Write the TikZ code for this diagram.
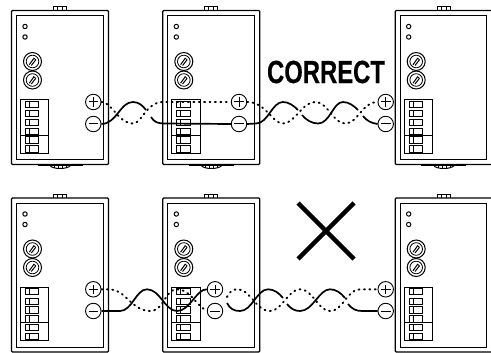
\documentclass[tikz,border=0pt]{standalone}
\usepackage{fontspec}
\setmainfont{Liberation Sans}
\newfontfamily\titlefont[BoldFont={Liberation Sans Bold},BoldFeatures={FakeBold=.5}]{Liberation Sans}
\tikzset{
  x=1pt,y=-1pt,
  outerline/.style={draw=black,line width=1.3pt,rounded corners=1pt},
  thinline/.style={draw=black,line width=.8pt},
  midline/.style={draw=black,line width=1pt},
  terminal/.style={circle,draw=black,line width=.9pt,minimum size=15.5pt,inner sep=0pt,fill=white},
  solidwire/.style={draw=black,line width=1.7pt},
  dotwire/.style={draw=black,line width=1.9pt,line cap=round,dash pattern=on 1pt off 4.4pt},
  bigmark/.style={draw=black,line width=4.5pt},
  title/.style={inner sep=0pt,xscale=.745,font=\titlefont\bfseries\fontsize{32}{32}\selectfont},
  pics/screw/.style={code={
    \draw[midline] (0,0) circle (9);
    \draw[thinline] (0,0) circle (6.3);
    \draw[midline] (-3.2,3.2) -- (1.4,-3.2) (-1.2,4) -- (3.2,-1.6);
    \draw[thinline] (1,-3.6) -- (3.4,-1.6);
  }},
  pics/clip/.style={code={
    \draw[midline] (42,0) -- (42,-3.5) -- (55,-3.5) -- (55,0);
    \draw[thinline] (46,-3.5) -- (46,0) (51,-3.5) -- (51,0);
  }},
  pics/foot/.style={code={
    \draw[thinline] (26,155.3) -- (71,155.3);
    \draw[midline] (38.5,155) .. controls (41,159) and (56,159) .. (59,155);
    \draw[thinline] (43,155) -- (43,158) (47,155) -- (47,158.5) (51,155) -- (51,158.5) (55,155) -- (55,158);
  }},
  pics/device/.style={code={
    \draw[outerline] (0,0) rectangle (97,154);
    \draw[midline] (5,5.5) rectangle (91.5,149.5);
    \draw[midline] (13.5,16) circle (2.2) (13.5,26.5) circle (2.2);
    \pic at (21,51) {screw};
    \pic at (21,69.5) {screw};
    \draw[thinline] (9,89) rectangle (37.3,142.5);
    \foreach \t/\b in {90.5/96.8,100/106.3,108.8/115.1,117.8/124.1,126.2/132.5,135.2/141.8}{
      \draw[thinline] (14,\t) rectangle (27.3,\b);
      \draw[thinline] (18,\t) -- (18,\b);
    }
    \draw[midline] (9,124.8) -- (37.3,124.8);
  }}
}
\begin{document}
\begin{tikzpicture}
\useasboundingbox (0,0) rectangle (491,353);
% top row
\pic at (11.5,10.5) {device};
\pic at (162.8,10.5) {device};
\pic at (395.2,10.5) {device};
\pic at (11.5,10.5) {clip};
\pic at (162.8,10.5) {clip};
\pic at (395.2,10.5) {clip};
\pic at (11.5,10.5) {foot};
\pic at (162.8,10.5) {foot};
\pic at (395.2,10.5) {foot};
% bottom row
\pic at (11.5,198) {device};
\pic at (162.8,198) {device};
\pic at (395.2,198) {device};
\pic at (11.5,198) {clip};
\pic at (162.8,198) {clip};
\pic at (395.2,198) {clip};

\node[terminal] (pa) at (93.3,102) {};
\node[terminal] (ma) at (93.3,124) {};
\node[terminal] (pb) at (239,102) {};
\node[terminal] (mb) at (239,124) {};
\node[terminal] (pc) at (385.7,102) {};
\node[terminal] (mc) at (385.7,124) {};
\node[terminal] (pd) at (93.3,289.3) {};
\node[terminal] (md) at (93.3,311) {};
\node[terminal] (pe) at (215,289.3) {};
\node[terminal] (me) at (215,311) {};
\node[terminal] (pf) at (385.7,289.3) {};
\node[terminal] (mf) at (385.7,311) {};
\foreach \n in {pa,ma,pb,mb,pc,mc,pd,md,pe,me,pf,mf}
  \draw[midline] ([xshift=-4.8pt]\n.center) -- ([xshift=4.8pt]\n.center);
\foreach \n in {pa,pb,pc,pd,pe,pf}
  \draw[midline] ([yshift=-4.8pt]\n.center) -- ([yshift=4.8pt]\n.center);

% top wires
\draw[dotwire] (pa.east) .. controls (112,102) and (118,123.5) .. (133,123.5)
  .. controls (142,123.5) and (146,102) .. (163,102) -- (pb.west);
\draw[solidwire] (ma.east) .. controls (117,123.5) and (120,102) .. (133,102)
  .. controls (139,102) and (143,106) .. (146,110);
\draw[solidwire] (151,117) .. controls (154,122) and (158,123.5) .. (164,123.5) -- (mb.west);
\draw[dotwire] (pb.east) .. controls (266,102) and (272,123.5) .. (283,123.5)
  .. controls (295,123.5) and (302,102) .. (315,102)
  .. controls (328,102) and (333,123.5) .. (345,123.5)
  .. controls (358,123.5) and (362,102) .. (pc.west);
\draw[solidwire] (mb.east) -- (256,123.5) .. controls (268,123.5) and (272,102) .. (283,102)
  .. controls (289,102) and (294,106) .. (298,110);
\draw[solidwire] (302,115) .. controls (306,120) and (312,123.5) .. (318,123.5)
  .. controls (330,123.5) and (333,102) .. (343,102)
  .. controls (349,102) and (354,106) .. (358,110);
\draw[solidwire] (363,116) .. controls (367,121) and (371,123) .. (mc.west);

% bottom wires
\draw[dotwire] (pd.east) -- (110,289.3) .. controls (125,289.3) and (132,311) .. (150,311)
  .. controls (164,311) and (165,289.3) .. (177,289.3)
  .. controls (190,289.3) and (195,304) .. (me.west);
\draw[solidwire] (md.east) -- (120,311) .. controls (132,311) and (136,289.3) .. (147,289.3)
  .. controls (160,289.3) and (165,311) .. (177,311)
  .. controls (190,311) and (196,289.3) .. (pe.west);
\draw[dotwire] (227,297) .. controls (230,291) and (233,289.3) .. (238,289.3)
  .. controls (250,289.3) and (256,311) .. (270,311)
  .. controls (282,311) and (288,289.3) .. (300,289.3)
  .. controls (313,289.3) and (318,311) .. (330,311)
  .. controls (343,311) and (347,289.3) .. (360,289.3) -- (pf.west);
\draw[solidwire] (227,303) .. controls (230,309) and (234,311) .. (240,311)
  .. controls (252,311) and (257,289.3) .. (268,289.3)
  .. controls (274,289.3) and (279,293) .. (283,298);
\draw[solidwire] (287,304) .. controls (291,309) and (295,311) .. (300,311)
  .. controls (313,311) and (319,289.3) .. (330,289.3)
  .. controls (336,289.3) and (341,293) .. (345,298);
\draw[solidwire] (348,304) .. controls (352,309) and (356,311) .. (362,311) -- (mf.west);

\node[title] (correct) at (326,72) {CORRECT};
\coordinate (xa) at (298,203);
\coordinate (xb) at (354,259);
\coordinate (xc) at (354,203);
\coordinate (xd) at (298,259);
\draw[bigmark] (xa) -- (xb);
\draw[bigmark] (xc) -- (xd);
\end{tikzpicture}
\end{document}
